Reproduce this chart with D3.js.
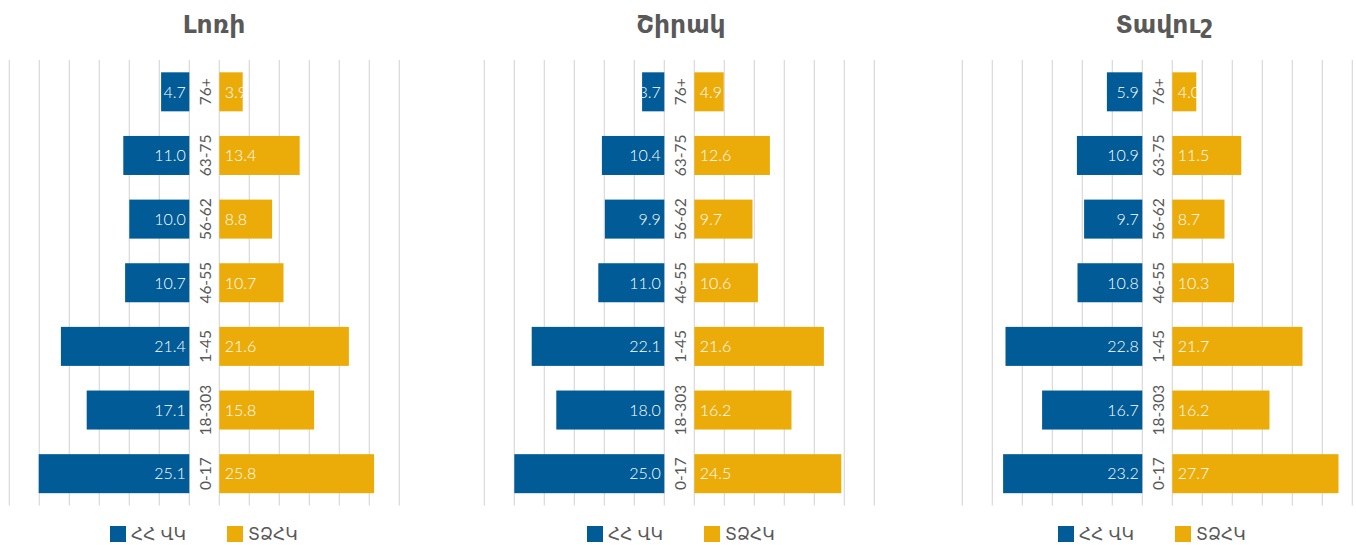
<!DOCTYPE html>
<html>
<head>
<meta charset="utf-8">
<script src="https://cdn.jsdelivr.net/npm/d3@7"></script>
<style>
  html, body { margin: 0; padding: 0; background: #fff; }
  svg { display: block; }
</style>
</head>
<body>
<svg id="chart" width="1356" height="545"></svg>
<script>
// ---- data ----
const categories = ["76+", "63-75", "56-62", "46-55", "1-45", "18-303", "0-17"];
const regions = ["Լոռի", "Շիրակ", "Տավուշ"];
const seriesNames = ["ՀՀ ՎԿ", "ՏՁՀԿ"];
const loriBlue = [4.7, 11.0, 10.0, 10.7, 21.4, 17.1, 25.1];
const loriOrange = [3.9, 13.4, 8.8, 10.7, 21.6, 15.8, 25.8];
const shirakBlue = [3.7, 10.4, 9.9, 11.0, 22.1, 18.0, 25.0];
const shirakOrange = [4.9, 12.6, 9.7, 10.6, 21.6, 16.2, 24.5];
const tavushBlue = [5.9, 10.9, 9.7, 10.8, 22.8, 16.7, 23.2];
const tavushOrange = [4.0, 11.5, 8.7, 10.3, 21.7, 16.2, 27.7];
const axisMax = 30;
const tickValues = [0, 5, 10, 15, 20, 25, 30];

const blueData = [loriBlue, shirakBlue, tavushBlue];
const orangeData = [loriOrange, shirakOrange, tavushOrange];

// ---- layout ----
const colors = ["#005B96", "#EBAC0A"];
const textGray = "#595959";
const gridColor = "#D9D9D9";
const panelLeft = [9.3, 484.3, 962.3];
const titleCenter = [214, 681, 1164];
const legendLeft = [110, 587, 1058];
const sideWidth = 180;
const gapWidth = 30;
const plotTop = 60, plotBottom = 505.5;
const armFont = "'DejaVu Sans', 'Noto Sans', sans-serif";
const numFont = "Lato, 'Liberation Sans', Arial, sans-serif";

const svg = d3.select("#chart");

const y = d3.scaleBand()
  .domain(categories)
  .range([plotTop, plotBottom])
  .paddingInner(0.387)
  .paddingOuter(0.1935);

regions.forEach((name, i) => {
  const x0 = panelLeft[i];
  const zeroL = x0 + sideWidth;
  const zeroR = zeroL + gapWidth;
  const xL = d3.scaleLinear().domain([0, axisMax]).range([zeroL, zeroL - sideWidth]);
  const xR = d3.scaleLinear().domain([0, axisMax]).range([zeroR, zeroR + sideWidth]);
  const g = svg.append("g");

  // gridlines
  const grid = g.append("g");
  [xL, xR].forEach(sc => {
    grid.selectAll(null)
      .data(tickValues)
      .enter().append("line")
      .attr("x1", d => sc(d)).attr("x2", d => sc(d))
      .attr("y1", plotTop).attr("y2", plotBottom)
      .attr("stroke", gridColor).attr("stroke-width", 1.2);
  });

  // title
  g.append("text")
    .attr("x", titleCenter[i]).attr("y", 33)
    .attr("text-anchor", "middle")
    .attr("font-family", armFont)
    .attr("font-weight", "bold")
    .attr("font-size", 25)
    .attr("fill", textGray)
    .text(name);

  const rows = categories.map((c, k) => ({ c, b: blueData[i][k], o: orangeData[i][k] }));

  // blue bars (left)
  g.selectAll(null).data(rows).enter().append("rect")
    .attr("x", d => xL(d.b))
    .attr("y", d => y(d.c))
    .attr("width", d => xL(0) - xL(d.b))
    .attr("height", y.bandwidth())
    .attr("fill", colors[0]);

  // orange bars (right)
  g.selectAll(null).data(rows).enter().append("rect")
    .attr("x", xR(0))
    .attr("y", d => y(d.c))
    .attr("width", d => xR(d.o) - xR(0))
    .attr("height", y.bandwidth())
    .attr("fill", colors[1]);

  // value labels
  g.selectAll(null).data(rows).enter().append("text")
    .attr("x", xL(0) - 3.5)
    .attr("y", d => y(d.c) + y.bandwidth() / 2)
    .attr("dy", "0.36em")
    .attr("text-anchor", "end")
    .attr("font-family", numFont)
    .attr("font-weight", 300)
    .attr("font-size", 16)
    .attr("fill", "#fff")
    .text(d => d.b.toFixed(1));

  g.selectAll(null).data(rows).enter().append("text")
    .attr("x", xR(0) + 5.5)
    .attr("y", d => y(d.c) + y.bandwidth() / 2)
    .attr("dy", "0.36em")
    .attr("text-anchor", "start")
    .attr("font-family", numFont)
    .attr("font-weight", 300)
    .attr("font-size", 16)
    .attr("fill", "#fff")
    .text(d => d.o.toFixed(1));

  // category labels (rotated)
  const cx = zeroL + gapWidth / 2 + 1.5;
  g.selectAll(null).data(categories).enter().append("text")
    .attr("transform", d => `translate(${cx},${y(d) + y.bandwidth() / 2}) rotate(-90)`)
    .attr("text-anchor", "middle")
    .attr("dy", "0.36em")
    .attr("font-family", numFont)
    .attr("font-weight", 400)
    .attr("font-size", 15.5)
    .attr("fill", textGray)
    .text(d => d);

  // legend
  const lg = g.append("g").attr("transform", `translate(${legendLeft[i]},526)`);
  const legX = [0, 117];
  seriesNames.forEach((s, k) => {
    lg.append("rect").attr("x", legX[k]).attr("y", 0)
      .attr("width", 16).attr("height", 16).attr("fill", colors[k]);
    lg.append("text").attr("x", legX[k] + 21).attr("y", 8)
      .attr("dy", "0.35em")
      .attr("font-family", armFont)
      .attr("font-size", 17)
      .attr("fill", textGray)
      .text(s);
  });
});
</script>
</body>
</html>
